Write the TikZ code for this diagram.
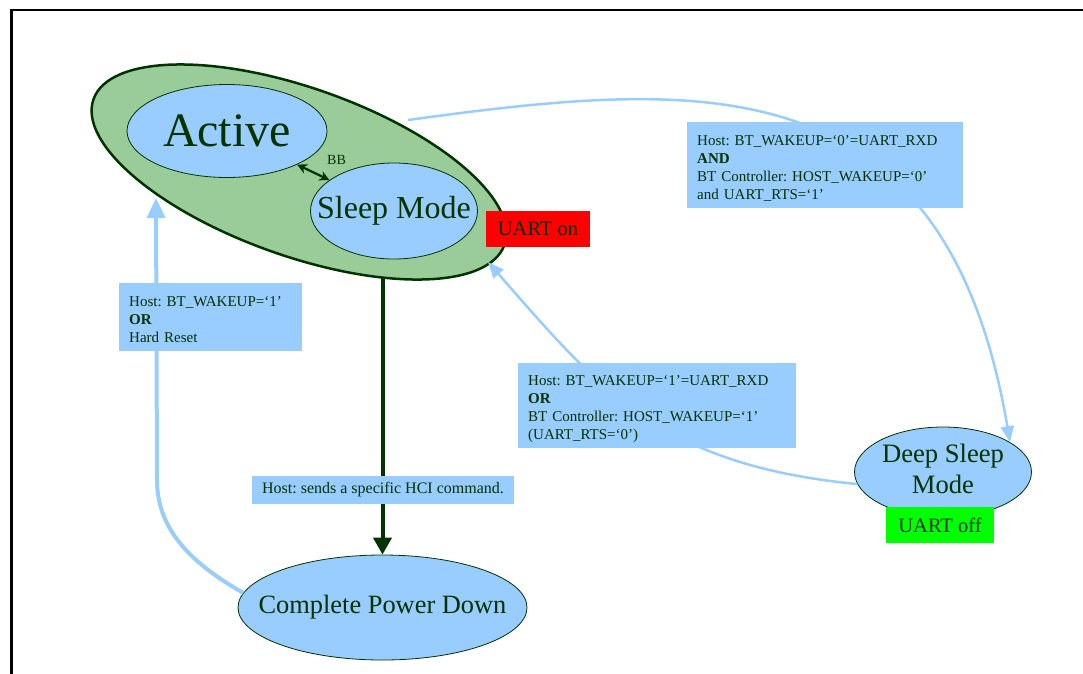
\documentclass[tikz,border=0pt]{standalone}
\usepackage{fontspec}
\setmainfont{Liberation Serif}
\usetikzlibrary{shapes.geometric,arrows.meta}
\definecolor{dkgreen}{HTML}{003300}
\definecolor{ltblue}{HTML}{99CCFF}
\definecolor{sgreen}{HTML}{99CC99}
\definecolor{uartred}{HTML}{FF0000}
\definecolor{uartgreen}{HTML}{00FF00}
\frenchspacing
\newcommand{\condlines}[1]{\raisebox{-3.5pt}[\height][\depth]{\begin{tabular}{@{}l@{}}#1\end{tabular}}}
\begin{document}
\begin{tikzpicture}[x=1pt,y=-1pt,
  state/.style={ellipse, draw=dkgreen, fill=ltblue, line width=0.8pt, inner sep=0pt, text=dkgreen},
  cond/.style={fill=ltblue, text=dkgreen, inner xsep=10pt, inner ysep=0pt,
    font=\fontsize{15}{18}\selectfont, align=left, anchor=north west},
  uart/.style={text=dkgreen, inner sep=0pt, font=\fontsize{20.5}{22}\selectfont},
  flow/.style={draw=ltblue, line width=2.5pt, -{Triangle[length=16pt,width=13pt]}},
]
\useasboundingbox (0,0) rectangle (1083,673);
% frame
\draw[line width=2.5pt] (11.5,690) -- (11.5,10) -- (1095,10);

% states
\node[ellipse, draw=dkgreen, fill=sgreen, line width=2.5pt, inner sep=0pt,
      minimum width=436pt, minimum height=168pt, rotate=-19.5] (awake) at (299,172) {};
\node[state, minimum width=200pt, minimum height=93pt,
      font=\fontsize{48}{50}\selectfont] (active) at (227,131) {\makebox[0pt]{Active}};
\node[state, minimum width=167pt, minimum height=96pt,
      font=\fontsize{32}{34}\selectfont] (sleep) at (394,211) {\makebox[0pt]{Sleep Mode}};
\node[state, minimum width=289pt, minimum height=105pt,
      font=\fontsize{26.4}{30}\selectfont] (cpd) at (382.5,607.5) {\makebox[0pt]{Complete Power Down}};
\node[state, minimum width=177pt, minimum height=90pt,
      font=\fontsize{26.6}{31}\selectfont] (ds) at (943,472)
      {\makebox[0pt]{\begin{tabular}{@{}c@{}}Deep Sleep\\Mode\end{tabular}}};

% connector ends on the big ellipse
\coordinate (awTR) at (408,120);
\coordinate (awBL) at (156,198);
\coordinate (awBR) at (488,262);
\coordinate (awB) at (382.5,277);

% connectors
\draw[dkgreen, line width=2.2pt, {Stealth[length=10pt,width=10pt]}-{Stealth[length=10pt,width=10pt]}] (active) -- (sleep);
\node[text=dkgreen, inner sep=0pt, font=\fontsize{14}{16}\selectfont] (bb) at (336.5,160) {BB};
\draw[dkgreen, line width=4pt, -{Triangle[length=17pt,width=18pt]}] (awB) -- (cpd.north);
\draw[flow, line width=4pt, -{Triangle[length=20pt,width=18pt]}]
  (cpd.174) .. controls (185,560) and (157,525) .. (157,480) -- (awBL);
\draw[flow] (awTR) .. controls (700,80) and (945,60) .. (ds.24);
\draw[flow] (ds.188) .. controls (660,465) and (600,390) .. (awBR);

% condition labels
\node[cond, minimum width=183pt, minimum height=68pt, text width=163pt] (cL) at (119,283)
  {\condlines{Host: BT\_WAKEUP=‘1’\\\textbf{OR}\\Hard Reset}};
\node[cond, minimum width=276pt, minimum height=86pt, text width=256pt] (cTR) at (687,122)
  {\condlines{Host: BT\_WAKEUP=‘0’=UART\_RXD\\\textbf{AND}\\BT Controller: HOST\_WAKEUP=‘0’\\and UART\_RTS=‘1’}};
\node[cond, minimum width=278pt, minimum height=85pt, text width=258pt] (cBR) at (518,363)
  {\condlines{Host: BT\_WAKEUP=‘1’=UART\_RXD\\\textbf{OR}\\BT Controller: HOST\_WAKEUP=‘1’\\(UART\_RTS=‘0’)}};
\node[fill=ltblue, text=dkgreen, inner sep=0pt, minimum width=262pt, minimum height=28pt,
      font=\fontsize{16}{18}\selectfont] (hci) at (383,490) {Host: sends a specific HCI command.};

% UART state boxes
\node[uart, fill=uartred, minimum width=104pt, minimum height=36pt] (uon) at (538,229) {UART on};
\node[uart, fill=uartgreen, minimum width=108pt, minimum height=36pt] (uoff) at (940,525) {UART off};
\end{tikzpicture}
\end{document}
